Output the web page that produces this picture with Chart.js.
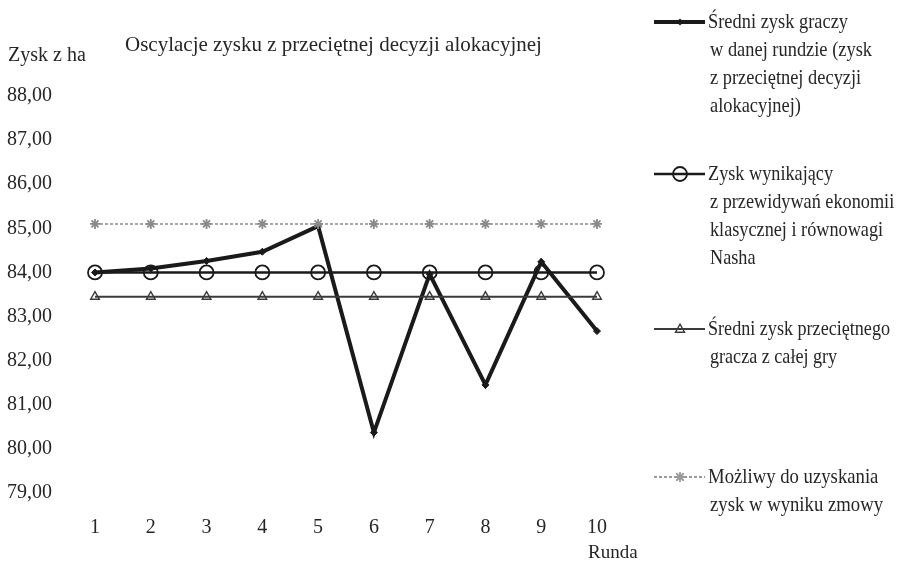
<!DOCTYPE html>
<html>
<head>
<meta charset="utf-8">
<script src="https://cdn.jsdelivr.net/npm/chart.js@4/dist/chart.umd.min.js"></script>
<style>
  html, body { margin: 0; padding: 0; background: #fff; }
  #wrap { width: 897px; height: 562px; position: relative; }
</style>
</head>
<body>
<div id="wrap"><canvas id="c" width="897" height="562"></canvas></div>
<script>
// Rounds of the game
const rounds = ['1', '2', '3', '4', '5', '6', '7', '8', '9', '10'];

// Average player profit per round (profit from the average allocation decision)
const avgRoundProfit = [84.00, 84.09, 84.26, 84.47, 85.05, 80.37, 83.96, 81.45, 84.24, 82.67];
// Profit predicted by classical economics / Nash equilibrium
const nashProfit = [84.00, 84.00, 84.00, 84.00, 84.00, 84.00, 84.00, 84.00, 84.00, 84.00];
// Average profit of the average player over the whole game
const avgGameProfit = [83.45, 83.45, 83.45, 83.45, 83.45, 83.45, 83.45, 83.45, 83.45, 83.45];
// Profit attainable through collusion
const collusionProfit = [85.10, 85.10, 85.10, 85.10, 85.10, 85.10, 85.10, 85.10, 85.10, 85.10];

const yTicks = { min: 79, max: 88, step: 1 };

const legendLabels = [
  ['Średni zysk graczy', 'w danej rundzie (zysk', 'z przeciętnej decyzji', 'alokacyjnej)'],
  ['Zysk wynikający', 'z przewidywań ekonomii', 'klasycznej i równowagi', 'Nasha'],
  ['Średni zysk przeciętnego', 'gracza z całej gry'],
  ['Możliwy do uzyskania', 'zysk w wyniku zmowy']
];

const SERIF = '"Liberation Serif", "DejaVu Serif", serif';
const TEXT = '#262626';

function drawMarker(ctx, style, x, y, r, stroke, lw) {
  ctx.save();
  ctx.strokeStyle = stroke;
  ctx.fillStyle = stroke;
  ctx.lineWidth = lw;
  ctx.beginPath();
  if (style === 'circle') {
    ctx.arc(x, y, r, 0, Math.PI * 2);
    ctx.stroke();
  } else if (style === 'triangle') {
    const h = r * 1.6;
    ctx.moveTo(x, y - h * 0.6);
    ctx.lineTo(x + r * 0.9, y + h * 0.4);
    ctx.lineTo(x - r * 0.9, y + h * 0.4);
    ctx.closePath();
    ctx.stroke();
  } else if (style === 'star') {
    ctx.moveTo(x - r, y); ctx.lineTo(x + r, y);
    ctx.moveTo(x, y - r); ctx.lineTo(x, y + r);
    const d = r * 0.75;
    ctx.moveTo(x - d, y - d); ctx.lineTo(x + d, y + d);
    ctx.moveTo(x - d, y + d); ctx.lineTo(x + d, y - d);
    ctx.stroke();
  } else if (style === 'rectRot') {
    ctx.moveTo(x, y - r); ctx.lineTo(x + r, y); ctx.lineTo(x, y + r); ctx.lineTo(x - r, y);
    ctx.closePath();
    ctx.fill();
  }
  ctx.restore();
}

// Title, axis captions and the side legend
const decorations = {
  id: 'decorations',
  afterDraw(chart) {
    const ctx = chart.ctx;
    ctx.save();
    ctx.fillStyle = TEXT;
    ctx.textBaseline = 'middle';
    ctx.textAlign = 'left';
    ctx.font = '21px ' + SERIF;
    ctx.fillText('Oscylacje zysku z przeciętnej decyzji alokacyjnej', 125, 45);
    ctx.font = '20px ' + SERIF;
    ctx.fillText('Zysk z ha', 8, 56);
    ctx.font = '19px ' + SERIF;
    ctx.fillText('Runda', 588, 553);

    // legend rows; each block is condensed by one common factor so its longest line fits its width
    const items = [
      { y: 22, style: 'rectRot', color: '#1a1a1a', lw: 4, r: 3.5, dash: [], mlw: 1,
        widths: [161, 162, 163, 95] },
      { y: 174, style: 'circle', color: '#1a1a1a', lw: 2.5, r: 7, dash: [], mlw: 1.8,
        widths: [125, 186, 175, 50] },
      { y: 329, style: 'triangle', color: '#3a3a3a', lw: 2, r: 5, dash: [], mlw: 1.4,
        widths: [182, 140] },
      { y: 477, style: 'star', color: '#9a9a9a', lw: 2, r: 5, dash: [3, 2], mlw: 1.8,
        widths: [172, 173] }
    ];
    ctx.font = '21px ' + SERIF;
    items.forEach((it, i) => {
      ctx.save();
      ctx.strokeStyle = it.color;
      ctx.lineWidth = it.lw;
      ctx.setLineDash(it.dash);
      ctx.beginPath();
      ctx.moveTo(654, it.y);
      ctx.lineTo(705, it.y);
      ctx.stroke();
      ctx.restore();
      drawMarker(ctx, it.style, 680, it.y, it.r, it.color, it.mlw);

      const lines = legendLabels[i];
      const natural = lines.map(t => ctx.measureText(t).width);
      const factor = Math.min(1, ...natural.map((w, k) => it.widths[k] / w));
      ctx.fillStyle = TEXT;
      lines.forEach((line, k) => {
        ctx.fillText(line, k === 0 ? 708 : 710, it.y + k * 28, natural[k] * factor);
      });
    });
    ctx.restore();
  }
};

new Chart(document.getElementById('c'), {
  type: 'line',
  data: {
    labels: rounds,
    datasets: [
      {
        label: legendLabels[3].join(' '),
        data: collusionProfit,
        borderColor: '#a8a8a8',
        borderWidth: 2,
        borderDash: [3, 2],
        pointStyle: 'star',
        pointRadius: 5,
        pointBorderColor: '#8a8a8a',
        pointBorderWidth: 1.8,
        pointBackgroundColor: 'transparent'
      },
      {
        label: legendLabels[2].join(' '),
        data: avgGameProfit,
        borderColor: '#3a3a3a',
        borderWidth: 2,
        pointStyle: 'triangle',
        pointRadius: 5,
        pointBorderColor: '#3a3a3a',
        pointBorderWidth: 1.4,
        pointBackgroundColor: 'rgba(255,255,255,0)'
      },
      {
        label: legendLabels[1].join(' '),
        data: nashProfit,
        borderColor: '#1a1a1a',
        borderWidth: 2.5,
        pointStyle: 'circle',
        pointRadius: 7,
        pointBorderColor: '#1a1a1a',
        pointBorderWidth: 1.8,
        pointBackgroundColor: 'rgba(255,255,255,0)'
      },
      {
        label: legendLabels[0].join(' '),
        data: avgRoundProfit,
        borderColor: '#1a1a1a',
        borderWidth: 4,
        pointStyle: 'rectRot',
        pointRadius: 3.5,
        pointBorderColor: '#1a1a1a',
        pointBackgroundColor: '#1a1a1a',
        pointBorderWidth: 1
      }
    ]
  },
  options: {
    responsive: false,
    animation: false,
    events: [],
    layout: { padding: { left: 0, right: 300, top: 96, bottom: 0 } },
    plugins: { legend: { display: false }, title: { display: false }, tooltip: { enabled: false } },
    elements: { line: { tension: 0 } },
    scales: {
      x: {
        offset: false,
        grid: { display: false, drawTicks: false },
        border: { display: false },
        ticks: { color: TEXT, font: { family: SERIF, size: 20 }, padding: 23, maxRotation: 0, autoSkip: false },
        afterFit(s) { s.height = 69; }
      },
      y: {
        min: yTicks.min,
        max: yTicks.max,
        grid: { display: false, drawTicks: false },
        border: { display: false },
        ticks: {
          stepSize: yTicks.step,
          color: TEXT,
          font: { family: SERIF, size: 20 },
          padding: 43,
          callback: v => v.toFixed(2).replace('.', ',')
        },
        afterFit(s) { s.width = 95; }
      }
    }
  },
  plugins: [decorations]
});
</script>
</body>
</html>
